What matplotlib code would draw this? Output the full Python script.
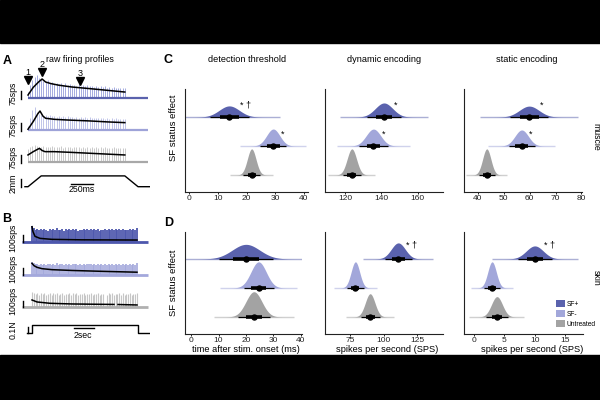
import numpy as np
import matplotlib
matplotlib.use("Agg")
import matplotlib.pyplot as plt
from matplotlib.patches import Rectangle, Patch

plt.rcParams['font.family'] = ['Liberation Sans', 'DejaVu Sans']

W, H = 600, 400
fig = plt.figure(figsize=(6, 4), dpi=100)

# ---------------- data ----------------
groups = ["SF+", "SF-", "Untreated"]
group_colors = ["#5a62ad", "#a2a7da", "#a3a3a3"]

# posterior summaries (mean, sd) per group: SF+, SF-, Untreated
muscle_detect_mean = [14.0, 29.3, 21.8]
muscle_detect_sd = [3.5, 2.3, 1.5]
muscle_dynamic_mean = [141.5, 135.7, 123.8]
muscle_dynamic_sd = [4.8, 4.0, 2.6]
muscle_static_mean = [59.8, 56.9, 43.4]
muscle_static_sd = [3.8, 2.6, 1.6]
skin_detect_mean = [20.0, 24.6, 22.9]
skin_detect_sd = [5.0, 2.8, 2.9]
skin_dynamic_mean = [111.0, 79.0, 90.0]
skin_dynamic_sd = [5.2, 3.2, 3.6]
skin_static_mean = [10.0, 3.0, 3.8]
skin_static_sd = [1.4, 0.7, 0.9]

muscle_detect_marks = ["* \u2020", "*", ""]
muscle_dynamic_marks = ["*", "*", ""]
muscle_static_marks = ["*", "*", ""]
skin_detect_marks = ["", "", ""]
skin_dynamic_marks = ["* \u2020", "", ""]
skin_static_marks = ["* \u2020", "", ""]

muscle_detect_ticks = [0, 10, 20, 30, 40]
muscle_dynamic_ticks = [120, 140, 160]
muscle_static_ticks = [40, 50, 60, 70, 80]
skin_detect_ticks = [0, 10, 20, 30, 40]
skin_dynamic_ticks = [75, 100, 125]
skin_static_ticks = [0, 5, 10, 15]

# raw firing profiles, panel A (ramp-hold stretch, ms / sps / mm)
A_spike_span = [0, 1100]
A1_spikes = [60, 120, 170, 200, 215, 190, 175, 160, 150, 165, 140, 150, 135, 145, 130,
             140, 125, 138, 120, 130, 118, 125, 112, 128, 115, 120, 108, 118, 110, 115,
             102, 112, 105, 110, 100, 108, 98, 104, 96, 100, 92, 98, 95, 90, 94]
A2_spikes = [40, 110, 190, 220, 170, 150, 140, 135, 145, 130, 138, 128, 135, 125, 132,
             122, 130, 120, 128, 118, 126, 117, 124, 115, 122, 114, 120, 112, 118, 110,
             116, 110, 115, 108, 114, 106, 112, 105, 110, 104, 108, 102, 106, 100, 104]
A3_spikes = [120, 140, 150, 160, 150, 145, 140, 150, 138, 145, 140, 148, 136, 144, 140,
             146, 135, 142, 138, 145, 134, 140, 137, 143, 132, 140, 135, 142, 130, 138,
             134, 140, 130, 136, 132, 138, 128, 135, 130, 136, 127, 133, 130, 135, 128]
A1_rate_t = [0, 60, 120, 160, 200, 260, 350, 500, 700, 900, 1100]
A1_rate = [28, 100, 150, 178, 150, 135, 120, 103, 88, 72, 56]
A2_rate_t = [0, 60, 110, 136, 170, 200, 300, 440, 700, 900, 1100]
A2_rate = [7, 80, 150, 178, 130, 110, 100, 94, 85, 76, 69]
A3_rate_t = [0, 60, 100, 130, 160, 193, 300, 500, 800, 1100]
A3_rate = [66, 97, 115, 128, 108, 97, 97, 90, 78, 66]
A_stim_t = [-35, 0, 150, 1100, 1250, 1380]
A_stim_mm = [0, 0, 2.7, 2.7, 0, 0]
A_arrow_t = [0, 160, 590]
A_arrow_y = [170, 245, 160]
A_arrow_lab = ["1", "2", "3"]

# panel B (step indentation, s / sps / N)
B_spike_span = [0, 10.5]
B1_spikes = [230, 200, 180, 190, 175, 185, 170, 195, 180, 165, 190, 175, 185, 170, 200,
             180, 175, 190, 165, 185, 178, 192, 170, 186, 175, 195, 168, 182, 176, 190,
             172, 185, 180, 196, 170, 184, 176, 190, 168, 182, 178, 194, 172, 186, 175,
             190, 170, 184, 178, 192, 174, 188, 170, 182, 176, 190, 172, 186, 178, 200]
B2_spikes = [200, 180, 160, 170, 150, 165, 155, 172, 150, 160, 168, 150, 162, 155, 175,
             150, 160, 170, 148, 162, 155, 170, 150, 165, 158, 172, 148, 160, 155, 168,
             150, 162, 158, 172, 148, 160, 155, 168, 150, 162, 156, 170, 150, 164, 155,
             168, 150, 160, 156, 170, 152, 165, 150, 160, 155, 168, 150, 162, 156, 175]
B3_spikes = [230, 220, 200, 215, 190, 210, 195, 220, 185, 205, 215, 190, 210, 195, 220,
             190, 200, 215, 185, 205, 195, 218, 190, 210, 198, 220, 185, 205, 195, 215,
             190, 205, 198, 220, 185, 200, 195, 215, 190, 205, 196, 0, 190, 210, 195,
             215, 190, 200, 196, 215, 192, 210, 190, 205, 195, 215, 190, 205, 196, 220]
B1_rate_t = [0, 0.1, 0.3, 0.8, 2, 5, 10.5]
B1_rate = [225, 150, 80, 50, 35, 28, 25]
B2_rate_t = [0, 0.2, 0.5, 1.0, 2, 4, 7, 10.5]
B2_rate = [175, 140, 115, 95, 80, 68, 55, 42]
B3_rate_t = [0, 0.5, 1.8, 4, 6.8, 8.2, 8.4, 8.6, 10.5]
B3_rate = [110, 80, 60, 50, 45, 43, np.nan, 42, 35]
B_stim_t = [-0.5, 0, 0, 10.6, 10.6, 11.8]
B_stim_N = [0, 0, 0.125, 0.125, 0, 0]

# ---------------- helpers ----------------
def px_axes(x0, x1, y0, y1, **kw):
    return fig.add_axes([x0 / W, 1 - y1 / H, (x1 - x0) / W, (y1 - y0) / H], **kw)

ov = px_axes(0, W, 0, H)
ov.set_xlim(0, W)
ov.set_ylim(H, 0)
ov.axis('off')
ov.add_patch(Rectangle((0, 0), W, 43, color='black', zorder=0))
ov.add_patch(Rectangle((0, 355), W, 45, color='black', zorder=0))


def ridge_panel(ax, means, sds, marks, ticks, xlim, ylim, mark_y):
    ys = [3, 2, 1]
    min_sd = min(sds)
    for i in [2, 1, 0]:
        m, s, y0 = means[i], sds[i], ys[i]
        x = np.linspace(m - 5 * s, m + 5 * s, 400)
        h = 0.9 * (min_sd / s) * np.exp(-0.5 * ((x - m) / s) ** 2)
        ax.fill_between(x, y0, y0 + h, color=group_colors[i], lw=0, zorder=2)
        ax.plot([m - 5 * s, m + 5 * s], [y0, y0], color=group_colors[i], lw=1.0,
                alpha=0.5, zorder=2, solid_capstyle='butt')
        ax.plot([m - 1.96 * s, m + 1.96 * s], [y0, y0], color='black', lw=0.9, zorder=3,
                solid_capstyle='butt')
        ax.plot([m - 0.954 * s, m + 0.954 * s], [y0, y0], color='black', lw=2.6, zorder=3,
                solid_capstyle='butt')
        ax.plot([m], [y0], 'o', color='black', ms=3.6, zorder=4)
        if marks[i]:
            ax.text(m + 1.1 * s, y0 + mark_y, marks[i], fontsize=6.5, ha='left',
                    va='center', zorder=5)
    ax.set_xlim(*xlim)
    ax.set_ylim(*ylim)
    ax.set_xticks(ticks)
    ax.set_yticks([])
    ax.tick_params(axis='x', labelsize=6, length=1.5, width=0.6, pad=0.6,
                   labelcolor='#222222')
    for sp in ['top', 'right']:
        ax.spines[sp].set_visible(False)
    for sp in ['left', 'bottom']:
        ax.spines[sp].set_linewidth(0.8)
        ax.spines[sp].set_color('#222222')


c1 = px_axes(185, 308, 89, 192)
ridge_panel(c1, muscle_detect_mean, muscle_detect_sd, muscle_detect_marks,
            muscle_detect_ticks, (-1.4, 41.4), (0.41, 3.97), 0.42)
c2 = px_axes(325, 443, 89, 192)
ridge_panel(c2, muscle_dynamic_mean, muscle_dynamic_sd, muscle_dynamic_marks,
            muscle_dynamic_ticks, (109, 174), (0.41, 3.97), 0.42)
c3 = px_axes(464, 582, 89, 192)
ridge_panel(c3, muscle_static_mean, muscle_static_sd, muscle_static_marks,
            muscle_static_ticks, (34.6, 80.2), (0.41, 3.97), 0.42)
d1 = px_axes(185, 302, 232, 334)
ridge_panel(d1, skin_detect_mean, skin_detect_sd, skin_detect_marks,
            skin_detect_ticks, (-2.2, 40.4), (0.41, 3.93), 0.48)
d2 = px_axes(325, 443, 232, 334)
ridge_panel(d2, skin_dynamic_mean, skin_dynamic_sd, skin_dynamic_marks,
            skin_dynamic_ticks, (56.3, 144.4), (0.41, 3.93), 0.48)
d3 = px_axes(464, 583, 232, 334)
ridge_panel(d3, skin_static_mean, skin_static_sd, skin_static_marks,
            skin_static_ticks, (-1.6, 17.9), (0.41, 3.93), 0.48)

handles = [Patch(facecolor=c, edgecolor='none', label=g) for g, c in zip(groups, group_colors)]
d3.legend(handles=handles, loc='lower left', bbox_to_anchor=(0.773, 0.06), frameon=False,
          fontsize=4.8, handlelength=1.35, handleheight=1.35, labelspacing=0.3,
          handletextpad=0.25, borderaxespad=0, borderpad=0)

# legend brackets (overlay, pixel coords)
ov.plot([555, 553, 553, 555], [301, 301, 313, 313], color='black', lw=0.6)
ov.plot([556, 554.5, 554.5, 556], [307, 307, 324, 324], color='black', lw=0.6)
ov.text(550.5, 305, "\u2020", fontsize=6, ha='center', va='center')
ov.text(551.5, 320, "*", fontsize=5, ha='center', va='center')

# ---------------- raw traces ----------------
def trace_ax(y0, y1, xlim, ylim):
    ax = px_axes(10, 150, y0, y1)
    ax.set_xlim(*xlim)
    ax.set_ylim(*ylim)
    ax.axis('off')
    return ax

A_xlim = (-204.5, 1386)
A_ylim = (-56.25, 300)
spk_A = [("#9aa2dc", "#5a62ad", A1_spikes, A1_rate_t, A1_rate, 66, 104),
         ("#b9bde6", "#9ea3d8", A2_spikes, A2_rate_t, A2_rate, 98, 136),
         ("#c4c4c4", "#a8a8a8", A3_spikes, A3_rate_t, A3_rate, 130, 168)]
A_axes = []
for sc, bc, spikes, rt, rv, y0, y1 in spk_A:
    ax = trace_ax(y0, y1, A_xlim, A_ylim)
    t = np.linspace(A_spike_span[0], A_spike_span[1], len(spikes))
    ax.vlines(t, 0, spikes, color=sc, lw=0.7, alpha=0.9, zorder=1)
    ax.plot([0, 1363], [0, 0], color=bc, lw=1.6, zorder=2, solid_capstyle='butt')
    ax.plot(rt, rv, color='black', lw=1.1, zorder=3)
    ax.plot([-80, -80], [-5, 70], color='black', lw=1.0)
    ax.text(-170, 40, "75sps", rotation=90, fontsize=6.3, ha='center', va='center',
            clip_on=False)
    A_axes.append(ax)

a1 = A_axes[0]
a1.plot(A_arrow_t, A_arrow_y, 'v', color='black', ms=5.5, clip_on=False)
for tt, yy, lab in zip(A_arrow_t, A_arrow_y, A_arrow_lab):
    a1.text(tt, yy + 68, lab, fontsize=6.5, ha='center', va='center', clip_on=False)

sa = trace_ax(170, 192, A_xlim, (-1.325, 4.175))
sa.plot(A_stim_t, A_stim_mm, color='black', lw=1.0)
sa.plot([-80, -80], [0, 2], color='black', lw=1.0)
sa.text(-170, 0.9, "2mm", rotation=90, fontsize=6.3, ha='center', va='center', clip_on=False)
sa.plot([490, 740], [0.7, 0.7], color='black', lw=1.0)
sa.text(615, -0.6, "250ms", fontsize=6.3, ha='center', va='center', clip_on=False)

B_xlim = (-2.2, 11.8)
B_ylim = (-60, 300)
spk_B = [("#4d57ad", "#4d57ad", B1_spikes, B1_rate_t, B1_rate, 221.7, 245.7, 1.3, 65),
         ("#a3a8dc", "#a3a8dc", B2_spikes, B2_rate_t, B2_rate, 255, 279, 1.2, 95),
         ("#c6c6c6", "#b0b0b0", B3_spikes, B3_rate_t, B3_rate, 287.3, 311.3, 0.8, 95)]
for sc, bc, spikes, rt, rv, y0, y1, lw, laby in spk_B:
    ax = trace_ax(y0, y1, B_xlim, B_ylim)
    t = np.linspace(B_spike_span[0], B_spike_span[1], len(spikes))
    ax.vlines(t, 0, spikes, color=sc, lw=lw, zorder=1)
    ax.plot([-1.0, 11.6], [0, 0], color=bc, lw=2.0, zorder=2, solid_capstyle='butt')
    ax.plot(rt, rv, color='black', lw=1.1, zorder=3)
    ax.plot([-0.93, -0.93], [0, 100], color='black', lw=1.0)
    ax.text(-1.9, laby, "100sps", rotation=90, fontsize=6.3, ha='center', va='center',
            clip_on=False)

sb = trace_ax(318, 340, B_xlim, (-0.1, 0.229))
sb.plot(B_stim_t, B_stim_N, color='black', lw=1.0)
sb.plot([-0.43, -0.43], [0, 0.1], color='black', lw=1.0)
sb.text(-1.9, 0.06, "0.1N", rotation=90, fontsize=6.3, ha='center', va='center', clip_on=False)
sb.plot([4.2, 6.2], [0.08, 0.08], color='black', lw=1.0)
sb.text(5.1, -0.04, "2sec", fontsize=6.3, ha='center', va='center', clip_on=False)

# ---------------- text ----------------
for lab, x, y in [("A", 3, 61), ("B", 2, 219), ("C", 164, 60), ("D", 164, 223)]:
    ov.text(x, y, lab, fontsize=9, fontweight='bold', ha='left', va='center')
ov.text(80, 60, "raw firing profiles", fontsize=6.4, ha='center', va='center')
ov.text(247, 60, "detection threshold", fontsize=6.6, ha='center', va='center')
ov.text(384, 60, "dynamic encoding", fontsize=6.6, ha='center', va='center')
ov.text(527, 60, "static encoding", fontsize=6.6, ha='center', va='center')
ov.text(173, 128, "SF status effect", fontsize=6.8, rotation=90, ha='center', va='center')
ov.text(173, 283, "SF status effect", fontsize=6.8, rotation=90, ha='center', va='center')
ov.text(596, 137, "muscle", fontsize=6.3, rotation=-90, ha='center', va='center')
ov.text(596, 278, "skin", fontsize=6.3, rotation=-90, ha='center', va='center')
ov.text(246, 350, "time after stim. onset (ms)", fontsize=6.7, ha='center', va='center')
ov.text(387, 350, "spikes per second (SPS)", fontsize=6.7, ha='center', va='center')
ov.text(532, 350, "spikes per second (SPS)", fontsize=6.7, ha='center', va='center')

fig.savefig("out.png", dpi=100)
